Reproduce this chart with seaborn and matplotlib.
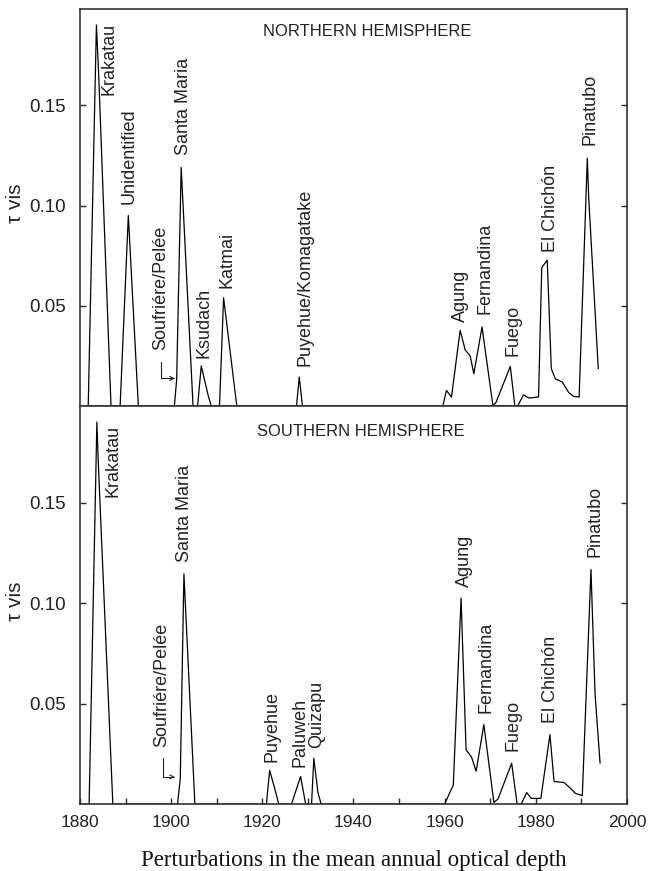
import numpy as np
import pandas as pd
import matplotlib
matplotlib.use("Agg")
import matplotlib.pyplot as plt
import seaborn as sns

# Mean annual optical depth
nh_year = [1880, 1881.8, 1883.6, 1884.1, 1886.8, 1888.8, 1890.6, 1892.8,
           1900.7, 1901.2, 1902.2, 1904.8, 1905.8, 1906.6, 1908.2, 1908.8,
           1910.6, 1911.5, 1914.4, 1927.5, 1928.1, 1928.8, 1959.6, 1960.4,
           1961.5, 1963.4, 1964.5, 1965.6, 1966.4, 1968.2, 1970.6, 1971.3,
           1974.4, 1975.4, 1976.0, 1977.3, 1978.5, 1980.6, 1981.3, 1982.5,
           1983.4, 1984.3, 1985.8, 1987.2, 1988.3, 1989.5, 1991.3, 1991.6,
           1993.7]
nh_tau = [0, 0, 0.190, 0.165, 0, 0, 0.095, 0,
          0, 0.013, 0.119, 0, 0, 0.020, 0.0045, 0,
          0, 0.054, 0, 0, 0.0145, 0, 0, 0.0078,
          0.0045, 0.0378, 0.028, 0.025, 0.0161, 0.0394, 0, 0.002,
          0.0198, 0, 0, 0.0056, 0.004, 0.0045, 0.069, 0.0728,
          0.0186, 0.0135, 0.012, 0.0068, 0.0048, 0.0045, 0.1236, 0.104,
          0.0186]

sh_year = [1880, 1882.0, 1883.7, 1884.1, 1887.2, 1901.4, 1902.0, 1902.8,
           1905.2, 1920.9, 1921.6, 1922.6, 1923.6, 1926.4, 1928.4, 1929.5,
           1930.8, 1931.3, 1932.2, 1932.9, 1960.0, 1961.9, 1963.6, 1964.7,
           1965.9, 1966.9, 1968.6, 1970.8, 1971.7, 1974.7, 1975.9, 1976.8,
           1978.0, 1979.0, 1981.1, 1983.1, 1984.0, 1986.2, 1987.6, 1988.7,
           1990.2, 1992.1, 1993.0, 1994.1]
sh_tau = [0, 0, 0.190, 0.165, 0, 0, 0.0128, 0.1145,
          0, 0, 0.0167, 0.0087, 0, 0, 0.0137, 0,
          0, 0.0228, 0.0057, 0, 0, 0.0095, 0.1025, 0.027,
          0.0233, 0.0163, 0.0395, 0.0008, 0.0025, 0.0203, 0, 0,
          0.0057, 0.0028, 0.0028, 0.0345, 0.0112, 0.0107, 0.0078, 0.0053,
          0.0042, 0.1167, 0.0545, 0.0203]

nh_names = ["Krakatau", "Unidentified", "Santa Maria", "Soufriére/Pelée",
            "Ksudach", "Katmai", "Puyehue/Komagatake", "Agung", "Fernandina",
            "Fuego", "El Chichón", "Pinatubo"]
sh_names = ["Krakatau", "Santa Maria", "Soufriére/Pelée", "Puyehue", "Paluweh",
            "Quizapu", "Agung", "Fernandina", "Fuego", "El Chichón", "Pinatubo"]

# where each name sits (year, tau at the bottom of the rotated text)
nh_label_pos = [(1886.3, 0.155), (1890.8, 0.101), (1902.8, 0.125), (1897.8, 0.028),
                (1907.2, 0.024), (1912.3, 0.059), (1929.3, 0.020), (1963.5, 0.042),
                (1968.9, 0.046), (1974.9, 0.025), (1983.2, 0.077), (1991.9, 0.130)]
sh_label_pos = [(1887.2, 0.153), (1902.9, 0.1205), (1897.9, 0.0285), (1922.2, 0.021),
                (1928.3, 0.0185), (1931.9, 0.028), (1964.4, 0.108), (1969.0, 0.0455),
                (1975.0, 0.0265), (1983.2, 0.0405), (1992.9, 0.123)]

sns.set_style("ticks")
plt.rcParams['font.family'] = ['Liberation Sans', 'DejaVu Sans']

fig = plt.figure(figsize=(6.51, 8.71), dpi=100)
ax_n = fig.add_axes([0.1229, 0.5338, 0.8402, 0.4559])
ax_s = fig.add_axes([0.1229, 0.0769, 0.8402, 0.4569])

panels = [
    (ax_n, nh_year, nh_tau, nh_names, nh_label_pos, "NORTHERN HEMISPHERE", (0.525, 0.944),
     (1897.85, 0.0218, 1900.8, 0.0138)),
    (ax_s, sh_year, sh_tau, sh_names, sh_label_pos, "SOUTHERN HEMISPHERE", (0.514, 0.935),
     (1898.2, 0.023, 1900.8, 0.0135)),
]

for ax, yr, tau, names, pos, title, tpos, arr in panels:
    df = pd.DataFrame({"year": yr, "tau": tau})
    sns.lineplot(data=df, x="year", y="tau", ax=ax, color="black",
                 linewidth=0.9, estimator=None, sort=False)
    ax.set_xlim(1880, 2000)
    ax.set_ylim(0, 0.198)
    ax.set_yticks([0.05, 0.10, 0.15])
    ax.set_yticklabels(["0.05", "0.10", "0.15"], fontsize=13.5, color="#222222")
    ax.tick_params(axis="y", direction="in", length=4, width=1, right=True,
                   labelright=False, pad=10)
    for sp in ax.spines.values():
        sp.set_visible(True)
        sp.set_color("#333333")
        sp.set_linewidth(1.2)
    ax.set_ylabel("τ vis", fontsize=15, color="#222222")
    ax.yaxis.set_label_coords(-0.1, 0.51)
    ax.text(tpos[0], tpos[1], title, transform=ax.transAxes, ha="center",
            va="center", fontsize=12, color="#222222")
    for name, (x, y) in zip(names, pos):
        ax.text(x, y, name, rotation=90, ha="center", va="bottom",
                fontsize=13, color="#222222")
    # bent arrow pointing at Soufriere/Pelee
    ax.annotate("", xy=(arr[2], arr[3]), xytext=(arr[0], arr[1]),
                arrowprops=dict(arrowstyle="->", color="#222222", lw=0.8,
                                mutation_scale=7, shrinkA=0, shrinkB=0,
                                connectionstyle="angle,angleA=90,angleB=0,rad=0"))

ax_n.set_xlabel("")
ax_n.tick_params(axis="x", bottom=False, labelbottom=False)

ax_s.set_xticks(np.arange(1880, 2001, 20))
ax_s.set_xticks(np.arange(1890, 2000, 20), minor=True)
ax_s.tick_params(axis="x", which="both", direction="in", length=4, width=1,
                 labelsize=12.5, labelcolor="#222222", pad=8)
ax_s.set_xlabel("Perturbations in the mean annual optical depth",
                family=["Liberation Serif", "DejaVu Serif"], fontsize=16.5,
                color="#111111", labelpad=14)

fig.savefig("out.png", dpi=100)
